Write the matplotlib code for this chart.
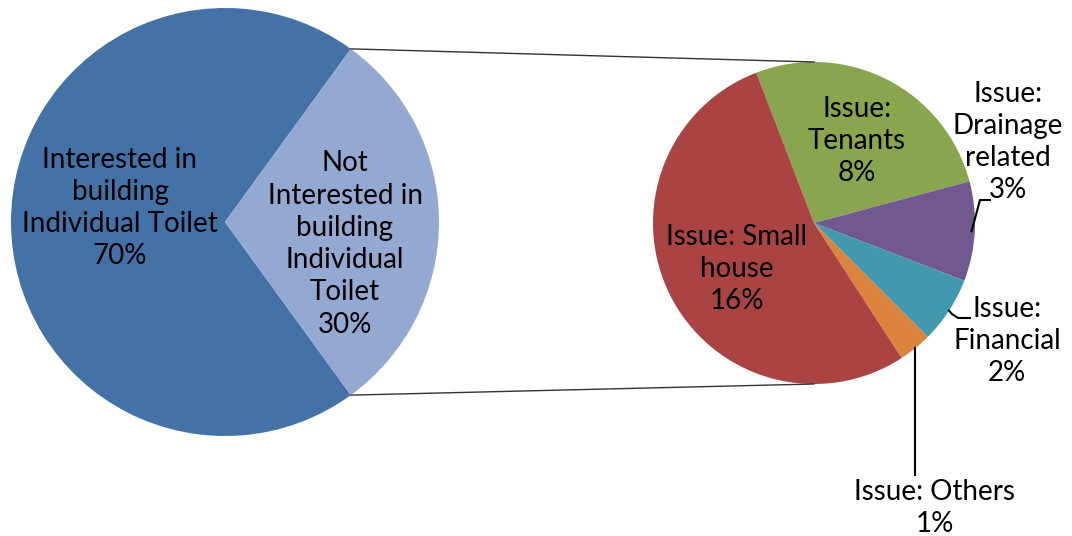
import numpy as np
import matplotlib.pyplot as plt

plt.rcParams['font.family'] = ['Lato', 'DejaVu Sans']

# main split
main_labels = ["Interested in\nbuilding\nIndividual Toilet\n70%",
               "Not\nInterested in\nbuilding\nIndividual\nToilet\n30%"]
main_values = [70, 30]
main_colors = ["#4472A7", "#93A9D1"]

# breakdown of the "not interested" share
issue_labels = ["Issue:\nTenants\n8%",
                "Issue:\nDrainage\nrelated\n3%",
                "Issue:\nFinancial\n2%",
                "Issue: Others\n1%",
                "Issue: Small\nhouse\n16%"]
issue_values = [8, 3, 2, 1, 16]
issue_colors = ["#89A54E", "#71588F", "#4198AF", "#DB843D", "#A94442"]

W, H = 1072, 536
fig = plt.figure(figsize=(W / 100, H / 100), dpi=100)
ax = fig.add_axes([0, 0, 1, 1])
ax.set_aspect('equal')

fs = 20
ls = 1.3

# left pie
c1, r1 = (225, 314), 214
half = 180 * main_values[1] / sum(main_values)
w1, _ = ax.pie(main_values, colors=main_colors, startangle=half, center=c1,
               radius=r1, frame=True, wedgeprops=dict(linewidth=0))

ax.text(c1[0] - 105, c1[1] + 14, main_labels[0], ha='center', va='center',
        fontsize=fs, linespacing=ls)
ax.text(c1[0] + 120, c1[1] - 22, main_labels[1], ha='center', va='center',
        fontsize=fs, linespacing=ls)

# right pie
c2, r2 = (814, 313), 161
w2, _ = ax.pie(issue_values, colors=issue_colors, startangle=111,
               counterclock=False, center=c2, radius=r2, frame=True,
               wedgeprops=dict(linewidth=0))
ax.set_xlim(0, W)
ax.set_ylim(0, H)
ax.axis('off')

# connector lines between the two pies
a = np.deg2rad(half)
for s in (1, -1):
    p = (c1[0] + r1 * np.cos(a), c1[1] + s * r1 * np.sin(a))
    q = (c2[0], c2[1] + s * r2)
    ax.plot([p[0], q[0]], [p[1], q[1]], color='#333333', lw=1)

# inside labels
ax.text(857, 395, issue_labels[0], ha='center', va='center', fontsize=fs,
        linespacing=ls)
ax.text(737, 267, issue_labels[4], ha='center', va='center', fontsize=fs,
        linespacing=ls)

# outside labels with leaders
def mid_point(w, frac=1.0):
    m = np.deg2rad((w.theta1 + w.theta2) / 2)
    return c2[0] + frac * r2 * np.cos(m), c2[1] + frac * r2 * np.sin(m)

x0, y0 = mid_point(w2[1], 0.98)
ax.plot([x0, 980, 990], [y0, 336, 336], color='black', lw=1.5)
ax.text(1008, 394, issue_labels[1], ha='center', va='center', fontsize=fs,
        linespacing=ls)

x0, y0 = mid_point(w2[2], 1.0)
ax.plot([x0, 952, 958, 970], [y0, 222, 218, 218], color='black', lw=1.5)
ax.text(1007, 195, issue_labels[2], ha='center', va='center', fontsize=fs,
        linespacing=ls)

x0, y0 = mid_point(w2[3], 1.0)
ax.plot([x0, x0], [y0, 61], color='black', lw=1.5)
ax.text(935, 28, issue_labels[3], ha='center', va='center', fontsize=fs,
        linespacing=ls)

fig.savefig("out.png", dpi=100)
